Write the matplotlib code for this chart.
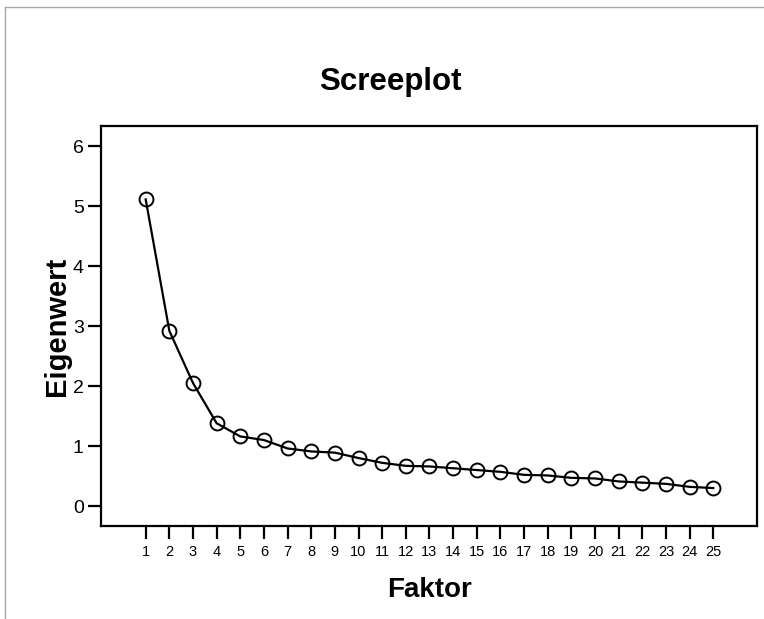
import matplotlib
matplotlib.use("Agg")
import matplotlib.pyplot as plt
from matplotlib.lines import Line2D

plt.rcParams['font.family'] = ['Liberation Sans', 'DejaVu Sans']

faktor = list(range(1, 26))
eigenwert = [5.11, 2.92, 2.05, 1.38, 1.16, 1.10, 0.96, 0.91, 0.89, 0.80,
             0.72, 0.67, 0.66, 0.63, 0.60, 0.57, 0.52, 0.51, 0.47, 0.46,
             0.41, 0.39, 0.37, 0.32, 0.30]
y_ticks = [0, 1, 2, 3, 4, 5, 6]

fig = plt.figure(figsize=(7.64, 6.19), dpi=100)
ax = fig.add_axes([0.1322, 0.1502, 0.8586, 0.6462])

ax.plot(faktor, eigenwert, color='black', lw=1.6, marker='o', ms=10,
        mfc='none', mec='black', mew=1.4)

ax.set_xlim(-0.89, 26.85)
ax.set_ylim(-0.333, 6.333)
ax.set_xticks(faktor)
ax.set_yticks(y_ticks)
ax.tick_params(axis='x', length=9.5, width=1.6, labelsize=10.5, pad=4)
ax.tick_params(axis='y', length=9.5, width=1.6, labelsize=14, pad=3)
for s in ax.spines.values():
    s.set_linewidth(1.6)

fig.text(0.511, 0.868, 'Screeplot', ha='center', va='center',
         fontsize=22.5, fontweight='bold')
fig.text(0.562, 0.047, 'Faktor', ha='center', va='center',
         fontsize=20, fontweight='bold')
fig.text(0.075, 0.473, 'Eigenwert', ha='center', va='center',
         fontsize=21, fontweight='bold', rotation=90)

# grey outer frame
fig.add_artist(Line2D([0.006, 1.0], [0.989, 0.989], color='#a8a8a8', lw=1.0))
fig.add_artist(Line2D([0.006, 0.006], [0.0, 0.989], color='#a8a8a8', lw=1.0))

fig.savefig('out.png', dpi=100)
